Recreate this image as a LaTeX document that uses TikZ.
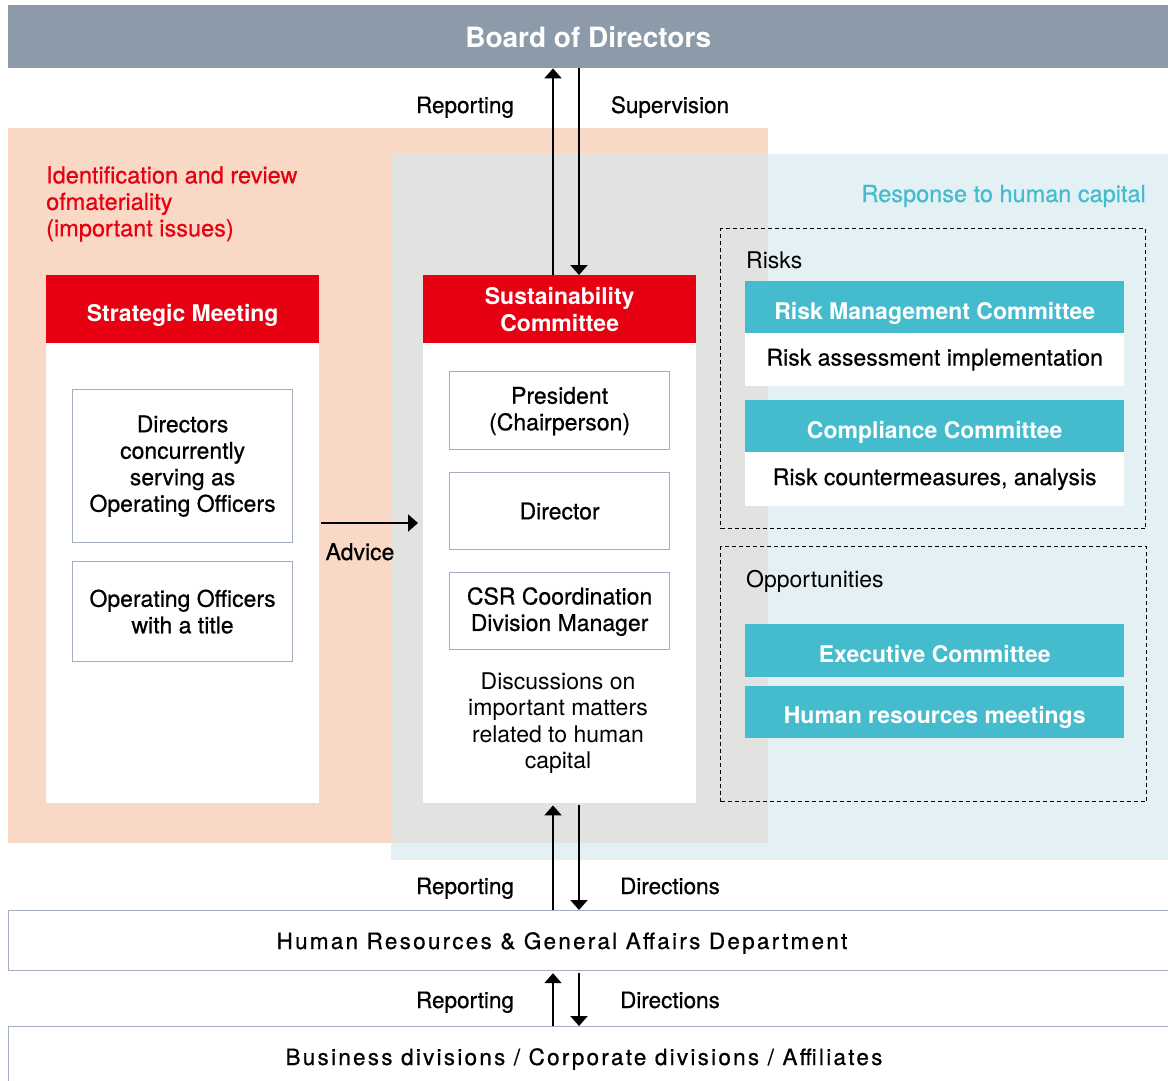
\documentclass[tikz,border=0pt]{standalone}
\usepackage{fontspec}
\setmainfont{TeX Gyre Heros}
\newfontfamily\medfont{TeX Gyre Heros}[FakeBold=0.6]
\usepackage{tikz}
\usetikzlibrary{arrows.meta}
\definecolor{boardgray}{HTML}{8C9AAA}
\definecolor{peach}{HTML}{F9D9C6}
\definecolor{midgray}{HTML}{E2E2E0}
\definecolor{paleblue}{HTML}{E3F1F5}
\definecolor{corpred}{HTML}{E60012}
\definecolor{hcteal}{HTML}{45BCCE}
\definecolor{edgegray}{HTML}{A3AEBE}

\begin{document}
\begin{tikzpicture}[x=1pt, y=-1pt, font=\fontsize{23}{26.5}\medfont,
    >={Triangle[width=17pt,length=10pt]},
    box/.style={anchor=north west, inner sep=0pt, align=center},
    redhead/.style={box, fill=corpred, text=white, font=\fontsize{23}{27}\selectfont\bfseries},
    tealhead/.style={box, fill=hcteal, text=white, minimum width=379pt, text height=24pt, text depth=0pt,
      font=\fontsize{23}{27}\selectfont\bfseries},
    body/.style={box, fill=white},
    member/.style={box, fill=white, draw=edgegray, line width=1.2pt},
    group/.style={box, draw, dashed, dash pattern=on 4pt off 3pt, line width=1.2pt},
    dept/.style={box, fill=white, draw=edgegray, line width=1.2pt, minimum width=1166pt},
    depttext/.style={anchor=base, font=\fontsize{22.5}{26}\medfont\addfontfeature{LetterSpace=10}},
    flow/.style={->, line width=2.2pt}]
  \useasboundingbox (0,0) rectangle (1168,1080);
  % coloured areas
  \fill[peach] (8,128) rectangle (768,843);
  \fill[paleblue] (391,154) rectangle (1168,860);
  \fill[midgray] (391,154) rectangle (768,843);
  % board
  \node[box, fill=boardgray, text=white, minimum width=1160pt, minimum height=63pt,
    font=\fontsize{28}{30}\selectfont\bfseries] (board) at (8,5) {Board of Directors};
  % materiality side
  \node[anchor=north west, inner sep=0pt, align=left, text=corpred, font=\fontsize{23.5}{26.5}\medfont] (mattitle)
    at (46,166) {Identification and review\\ ofmateriality\\ (important issues)};
  \node[redhead, minimum width=273pt, minimum height=68pt, text height=24pt, text depth=0pt] (smhead) at (46,275)
    {Strategic Meeting};
  \node[body, minimum width=273pt, minimum height=460pt] (smbody) at (46,343) {};
  \node[member, minimum width=220pt, minimum height=153pt] (dirofficer) at (72,389)
    {Directors\\ concurrently\\ serving as\\ Operating Officers};
  \node[member, minimum width=220pt, minimum height=100pt] (titleofficer) at (72,561)
    {Operating Officers\\ with a title};
  % sustainability committee
  \node[redhead, minimum width=273pt, minimum height=68pt] (schead) at (423,275) {Sustainability\\ Committee};
  \node[body, minimum width=273pt, minimum height=460pt] (scbody) at (423,343) {};
  \node[member, minimum width=220pt, minimum height=78pt, text depth=4pt] (president) at (449,371)
    {President\\ (Chairperson)};
  \node[member, minimum width=220pt, minimum height=77pt] (director) at (449,472) {Director};
  \node[member, minimum width=220pt, minimum height=77pt, text depth=4pt] (csr) at (449,572)
    {CSR Coordination\\ Division Manager};
  \node[align=center, inner sep=0pt, font=\fontsize{23}{26.5}\selectfont] (discuss) at (558,723)
    {Discussions on\\ important matters\\ related to human\\ capital};
  % human capital side
  \node[anchor=base east, inner sep=0pt, text=hcteal, font=\fontsize{23.5}{26}\medfont] (hctitle) at (1146,202)
    {Response to human capital};
  \node[group, minimum width=425pt, minimum height=300pt] (risks) at (720,228) {};
  \node[anchor=base west, inner sep=0pt, font=\fontsize{23}{26}\selectfont] (riskslbl) at (746,268) {Risks};
  \node[tealhead, minimum height=52pt] (rmchead) at (745,281) {Risk Management Committee};
  \node[body, minimum width=379pt, minimum height=53pt] (rmcbody) at (745,333) {Risk assessment implementation};
  \node[tealhead, minimum height=52pt] (cchead) at (745,400) {Compliance Committee};
  \node[body, minimum width=379pt, minimum height=54pt] (ccbody) at (745,452) {Risk countermeasures, analysis};
  \node[group, minimum width=426pt, minimum height=255pt] (opps) at (720,546) {};
  \node[anchor=base west, inner sep=0pt, font=\fontsize{23}{26}\selectfont] (oppslbl) at (746,587) {Opportunities};
  \node[tealhead, minimum height=53pt] (exec) at (745,624) {Executive Committee};
  \node[tealhead, minimum height=52pt, text height=22pt] (hrmeet) at (745,686) {Human resources meetings};
  % departments
  \node[dept, minimum height=60pt] (hrdept) at (8,910) {};
  \node[depttext] (hrtext) at (562,949) {Human Resources \& General Affairs Department};
  \node[dept, minimum height=64pt] (bizdiv) at (8,1026) {};
  \node[depttext] (biztext) at (584,1065) {Business divisions / Corporate divisions / Affiliates};
  % arrows
  \coordinate (upx) at (553,0);
  \coordinate (dnx) at (579,0);
  \coordinate (advy) at (0,523);
  \draw[flow] (upx |- schead.north) -- (upx |- board.south);
  \draw[flow] (dnx |- board.south) -- (dnx |- schead.north);
  \draw[flow] (upx |- hrdept.north) -- ([yshift=-2pt]upx |- scbody.south);
  \draw[flow] ([yshift=-2pt]dnx |- scbody.south) -- (dnx |- hrdept.north);
  \draw[flow] (upx |- bizdiv.north) -- ([yshift=-2pt]upx |- hrdept.south);
  \draw[flow] ([yshift=-2pt]dnx |- hrdept.south) -- (dnx |- bizdiv.north);
  \draw[flow, line width=2pt, shorten <=2pt, shorten >=5pt] (smbody.east |- advy) -- (scbody.west |- advy);
  \node[anchor=base] (advice) at (360,560) {Advice};
  \foreach \y/\r/\d in {113/Reporting/Supervision, 894/Reporting/Directions, 1008/Reporting/Directions} {
    \node[anchor=base, font=\fontsize{22.5}{26}\medfont] (rep\y) at (465,\y) {\r};
    \node[anchor=base, font=\fontsize{22.5}{26}\medfont] (dir\y) at (670,\y) {\d};}
\end{tikzpicture}
\end{document}
